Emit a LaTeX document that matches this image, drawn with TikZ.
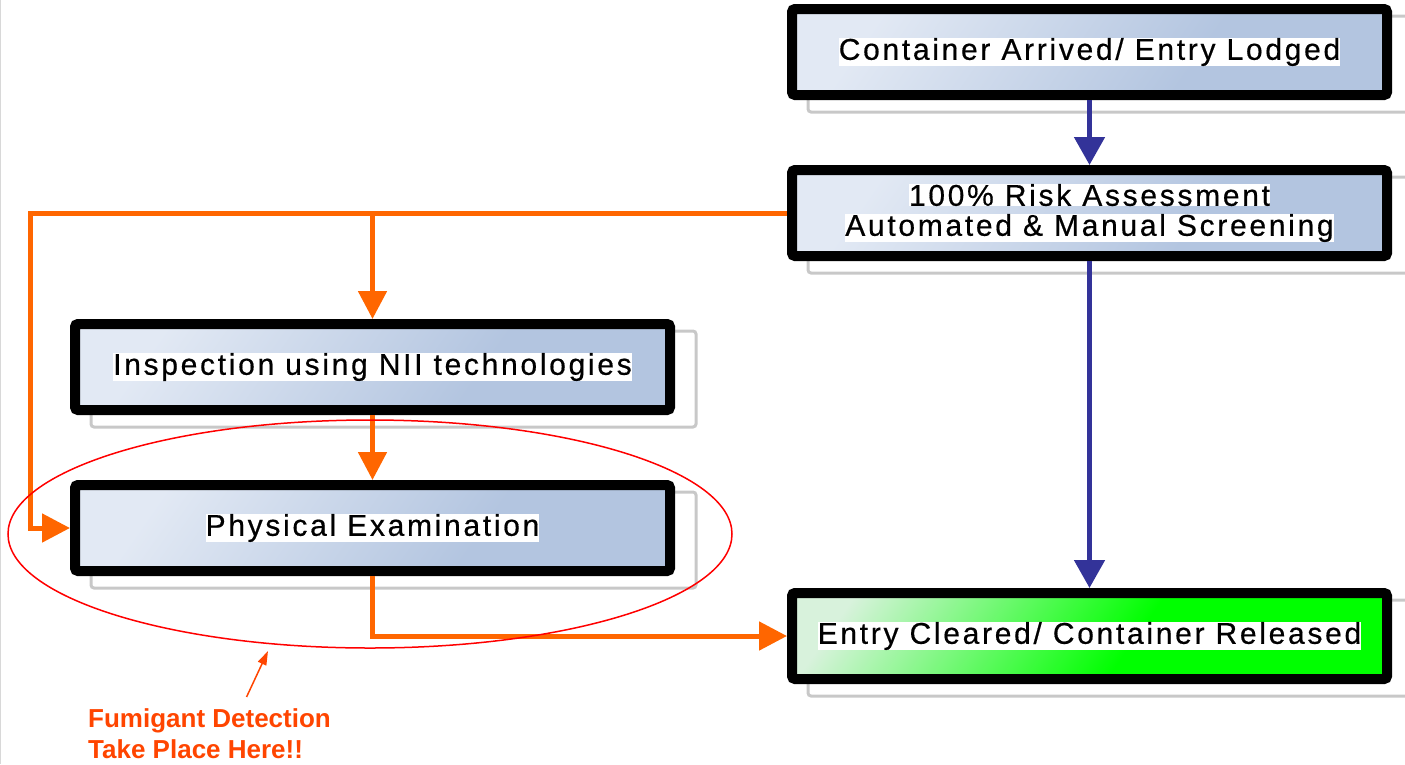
\documentclass[tikz,border=0pt]{standalone}
\usepackage{fontspec}
\setmainfont{Liberation Sans}
\usetikzlibrary{arrows.meta,positioning,backgrounds,shapes.geometric}
\definecolor{boxlight}{HTML}{E2E9F4}
\definecolor{boxdark}{HTML}{B3C5E0}
\definecolor{clearlight}{HTML}{D8F2DC}
\definecolor{cleardark}{HTML}{00FF00}
\definecolor{flowblue}{HTML}{333399}
\definecolor{floworange}{HTML}{FF6600}
\definecolor{notered}{HTML}{FF4500}
\definecolor{ghostgray}{HTML}{C8C8C8}
\pgfdeclarehorizontalshading{stageshade}{100bp}{color(0bp)=(boxlight); color(25bp)=(boxlight); color(62bp)=(boxdark); color(100bp)=(boxdark)}
\pgfdeclarehorizontalshading{clearshade}{100bp}{color(0bp)=(clearlight); color(22bp)=(clearlight); color(55bp)=(cleardark); color(100bp)=(cleardark)}
\newcommand{\hl}[1]{{\setlength{\fboxsep}{0pt}\colorbox{white}{#1}}}

\begin{document}
\begin{tikzpicture}[x=1pt,y=-1pt,node distance=65pt,
  stage/.style={draw=black,line width=10pt,rounded corners=3pt,minimum width=595pt,minimum height=86pt,
    shading=stageshade,shading angle=-35,align=center,
    font=\fontsize{30}{30}\selectfont\addfontfeatures{LetterSpace=9,FakeBold=0.5}},
  cleared/.style={stage,shading=clearshade,shading angle=-35},
  ghost/.style={draw=ghostgray,line width=3pt,rounded corners=3pt},
  link/.style={draw=flowblue,line width=5pt,-{Triangle[length=28pt,width=30pt]}},
  flow/.style={draw=floworange,line width=5pt,-{Triangle[length=28pt,width=28pt]}},
  note/.style={text=notered,align=left,inner sep=0pt,font=\fontsize{26}{31}\selectfont\bfseries},
  pointer/.style={draw=notered,line width=1.5pt,-{Triangle[length=14pt,width=9pt]}}]
  \useasboundingbox (0,0) rectangle (1405,764);
  \draw[ghostgray!70,line width=1pt] (0.5,0) -- (0.5,764);

  \node[stage]  (b1)  at (1089.5,52)   {\hl{Container Arrived/ Entry Lodged}};
  \node[stage]  (b2)  [below=of b1]    {\hl{100\% Risk Assessment}\\\hl{Automated \& Manual Screening}};
  \node[cleared] (b5) [below=327pt of b2] {\hl{Entry Cleared/ Container Released}};
  \node[stage]  (b3)  at (372.5,367)   {\hl{Inspection using NII technologies}};
  \node[stage]  (b4)  [below=of b3]    {\hl{Physical Examination}};

  \begin{pgfonlayer}{background}
    \foreach \b in {b1,b2,b3,b4,b5}
      \draw[ghost] ([shift={(21,12)}]\b.north west) rectangle ([shift={(21,12)}]\b.south east);
  \end{pgfonlayer}

  \coordinate (bend) at (30,0);
  \draw[link] (b1) -- (b2);
  \draw[link] (b2) -- (b5);
  \draw[flow] (b2.west) -| (bend |- b4.west) -- (b4.west);
  \draw[flow] (b2.west -| b3.north) -- (b3.north);
  \draw[flow] (b3) -- (b4);
  \draw[flow] (b4.south) |- (b5.west);

  % area where the check is done
  \node[ellipse,draw=red,line width=1.5pt,minimum width=724pt,minimum height=228pt] (zone) at (370,534) {};
  \node[note,anchor=north west] (note) at (88,708) {Fumigant Detection\\Take Place Here!!};
  \coordinate (tip) at (268,651);
  \draw[pointer] ([shift={(37,-11)}]note.north) -- (tip);
\end{tikzpicture}
\end{document}
